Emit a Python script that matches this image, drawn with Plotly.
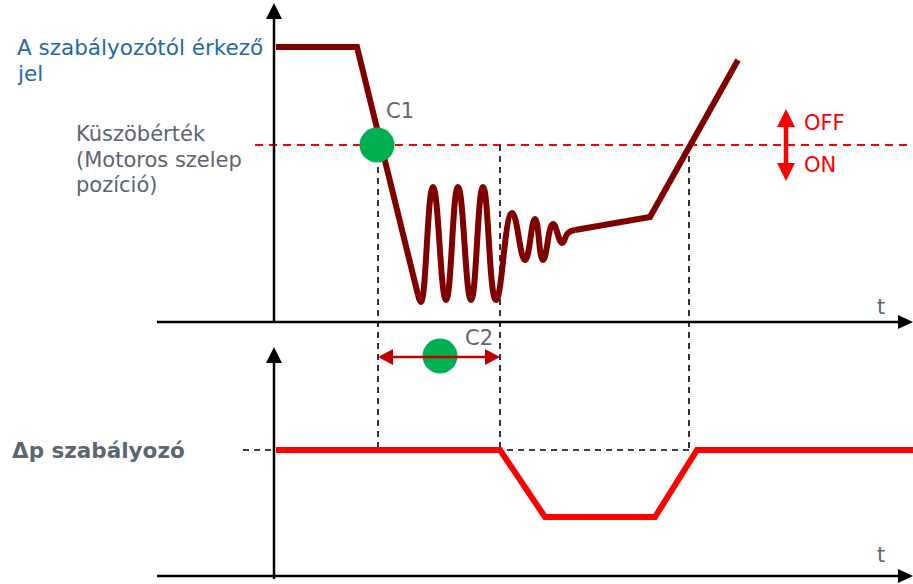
import plotly.graph_objects as go

W, H = 913, 584

# ---- data (pixel coordinates of the schematic) ----
# controller signal: plateau + straight descent
sig_lin_x = [276, 357, 418]
sig_lin_y = [47, 47, 295]
# oscillating part (peaks / troughs)
sig_osc_x = [418, 421, 433, 446, 458, 471, 483, 496, 512, 525, 535, 543, 553, 562, 568, 575]
sig_osc_y = [295, 302, 187, 300, 187, 300, 187, 300, 213, 260, 219, 260, 224, 243, 233, 230]
# slow rise afterwards
sig_end_x = [575, 650, 738]
sig_end_y = [230, 217, 60]

# dp controller output
dp_x = [276, 500, 545, 655, 697, 913]
dp_y = [450, 450, 517, 517, 450, 450]

threshold_y = 145
c1_x = 378
c2_x = 500
off_x = 689
dp_level = 450
c2_arrow_y = 357

labels_main = ["A szabályozótól érkező", "jel"]
labels_thr = ["Küszöbérték", "(Motoros szelep", "pozíció)"]

DARK = "#800000"
RED = "#FF0000"
GREEN = "#00B050"
GRAY = "#5B6670"
BLUE = "#1F69A9"
FONT = "DejaVu Sans"

fig = go.Figure()

shapes = []
# dashed helper lines
shapes.append(dict(type="line", x0=255, x1=913, y0=threshold_y, y1=threshold_y,
                   line=dict(color=RED, width=2, dash="8px,6px"), layer="below"))
for xv in [c1_x, c2_x, off_x]:
    shapes.append(dict(type="line", x0=xv, x1=xv, y0=threshold_y, y1=dp_level,
                       line=dict(color="black", width=1.6, dash="6px,5px"), layer="below"))
shapes.append(dict(type="line", x0=243, x1=off_x, y0=dp_level, y1=dp_level,
                   line=dict(color="black", width=1.6, dash="6px,5px"), layer="below"))

# axes
ax_col = "black"
shapes += [
    dict(type="line", x0=274, x1=274, y0=322, y1=14, line=dict(color=ax_col, width=2.5)),
    dict(type="path", path="M 274 3 L 266 19 L 282 19 Z", fillcolor=ax_col, line=dict(width=0)),
    dict(type="line", x0=157, x1=902, y0=322, y1=322, line=dict(color=ax_col, width=2.5)),
    dict(type="path", path="M 913 322 L 898 315 L 898 329 Z", fillcolor=ax_col, line=dict(width=0)),
    dict(type="line", x0=274, x1=274, y0=579, y1=358, line=dict(color=ax_col, width=2.5)),
    dict(type="path", path="M 274 347 L 266 363 L 282 363 Z", fillcolor=ax_col, line=dict(width=0)),
    dict(type="line", x0=157, x1=902, y0=576, y1=576, line=dict(color=ax_col, width=2.5)),
    dict(type="path", path="M 913 576 L 898 569 L 898 583 Z", fillcolor=ax_col, line=dict(width=0)),
]

# C2 double arrow
C2C = "#C00000"
shapes += [
    dict(type="line", x0=390, x1=488, y0=c2_arrow_y, y1=c2_arrow_y, line=dict(color=C2C, width=2.5)),
    dict(type="path", path=f"M {c1_x} {c2_arrow_y} L 393 {c2_arrow_y-8} L 393 {c2_arrow_y+8} Z",
         fillcolor=C2C, line=dict(width=0)),
    dict(type="path", path=f"M {c2_x} {c2_arrow_y} L 485 {c2_arrow_y-8} L 485 {c2_arrow_y+8} Z",
         fillcolor=C2C, line=dict(width=0)),
]
# OFF/ON arrow
shapes += [
    dict(type="line", x0=786, x1=786, y0=122, y1=168, line=dict(color=RED, width=4.5)),
    dict(type="path", path="M 786 109 L 777 127 L 795 127 Z", fillcolor=RED, line=dict(width=0)),
    dict(type="path", path="M 786 181 L 777 163 L 795 163 Z", fillcolor=RED, line=dict(width=0)),
]

fig.add_trace(go.Scatter(x=sig_lin_x, y=sig_lin_y, mode="lines",
                         line=dict(color=DARK, width=6), hoverinfo="skip"))
fig.add_trace(go.Scatter(x=sig_osc_x, y=sig_osc_y, mode="lines",
                         line=dict(color=DARK, width=6, shape="spline", smoothing=1.3), hoverinfo="skip"))
fig.add_trace(go.Scatter(x=sig_end_x, y=sig_end_y, mode="lines",
                         line=dict(color=DARK, width=6), hoverinfo="skip"))
fig.add_trace(go.Scatter(x=dp_x, y=dp_y, mode="lines",
                         line=dict(color=RED, width=6), hoverinfo="skip"))
# green markers
fig.add_trace(go.Scatter(x=[377, 440], y=[threshold_y, 356], mode="markers",
                         marker=dict(color=GREEN, size=35, line=dict(width=0)), hoverinfo="skip"))

ann = []
def txt(x, y, s, color, size, bold=False):
    ann.append(dict(x=x, y=y, text=f"<b>{s}</b>" if bold else s, showarrow=False,
                    xanchor="left", yanchor="middle",
                    font=dict(family=FONT, size=size, color=color)))

txt(15, 47, labels_main[0], BLUE, 21.5)
txt(15, 73, labels_main[1], BLUE, 21.5)
for i, s in enumerate(labels_thr):
    txt(74, 134 + i * 25.5, s, GRAY, 21)
txt(10, 450, "Δp szabályozó", GRAY, 21.5, bold=True)
txt(384, 111, "C1", GRAY, 21)
txt(463, 338, "C2", GRAY, 21)
txt(875, 307, "t", GRAY, 21)
txt(875, 555, "t", GRAY, 21)
txt(802, 123, "OFF", RED, 21)
txt(802, 165, "ON", RED, 21)

fig.update_layout(
    width=W, height=H, margin=dict(l=0, r=0, t=0, b=0),
    paper_bgcolor="white", plot_bgcolor="white", showlegend=False,
    xaxis=dict(range=[0, W], visible=False, fixedrange=True),
    yaxis=dict(range=[H, 0], visible=False, fixedrange=True),
    shapes=shapes, annotations=ann,
)
fig.write_html("out.html", config={"displayModeBar": False},
               post_script="document.body.style.margin='0';document.body.style.overflow='hidden';")
